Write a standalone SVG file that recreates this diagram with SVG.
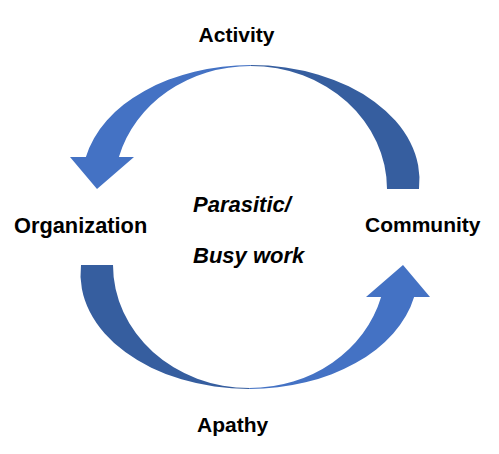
<svg xmlns="http://www.w3.org/2000/svg" width="499" height="454" viewBox="0 0 499 454">
<style>
.lbl{font-family:"Liberation Sans",Arial,sans-serif;font-weight:bold;font-size:21px;fill:#000}
.it{font-style:italic;font-size:22px}
.front{fill:#4472C4}
.back{fill:#365E9F}
</style>
<defs>
<g id="curvedArrow">
<path class="back" d="M251 65 A168.5 115 0 0 1 419 189 L387 189 A136.4 123 0 0 0 250.6 66 Z"/>
<path class="front" d="M85.9 157 A168.5 115 0 0 1 251 65 L250.6 66 A136.4 123 0 0 0 118.9 157 L134 157 L97 189 L70 157 Z"/>
</g>
</defs>
<g id="connectors">
<use id="arrow-top" href="#curvedArrow"/>
<use id="arrow-bottom" href="#curvedArrow" transform="rotate(180 250 227)"/>
</g>
<g id="node-activity"><text class="lbl" x="236.5" y="42" text-anchor="middle">Activity</text></g>
<g id="node-organization"><text class="lbl" x="14" y="233" style="font-size:21.8px">Organization</text></g>
<g id="node-community"><text class="lbl" x="365" y="232">Community</text></g>
<g id="node-apathy"><text class="lbl" x="197" y="432">Apathy</text></g>
<g id="node-center">
<text class="lbl it" x="193" y="212">Parasitic/</text>
<text class="lbl it" x="193" y="263">Busy work</text>
</g>
</svg>
